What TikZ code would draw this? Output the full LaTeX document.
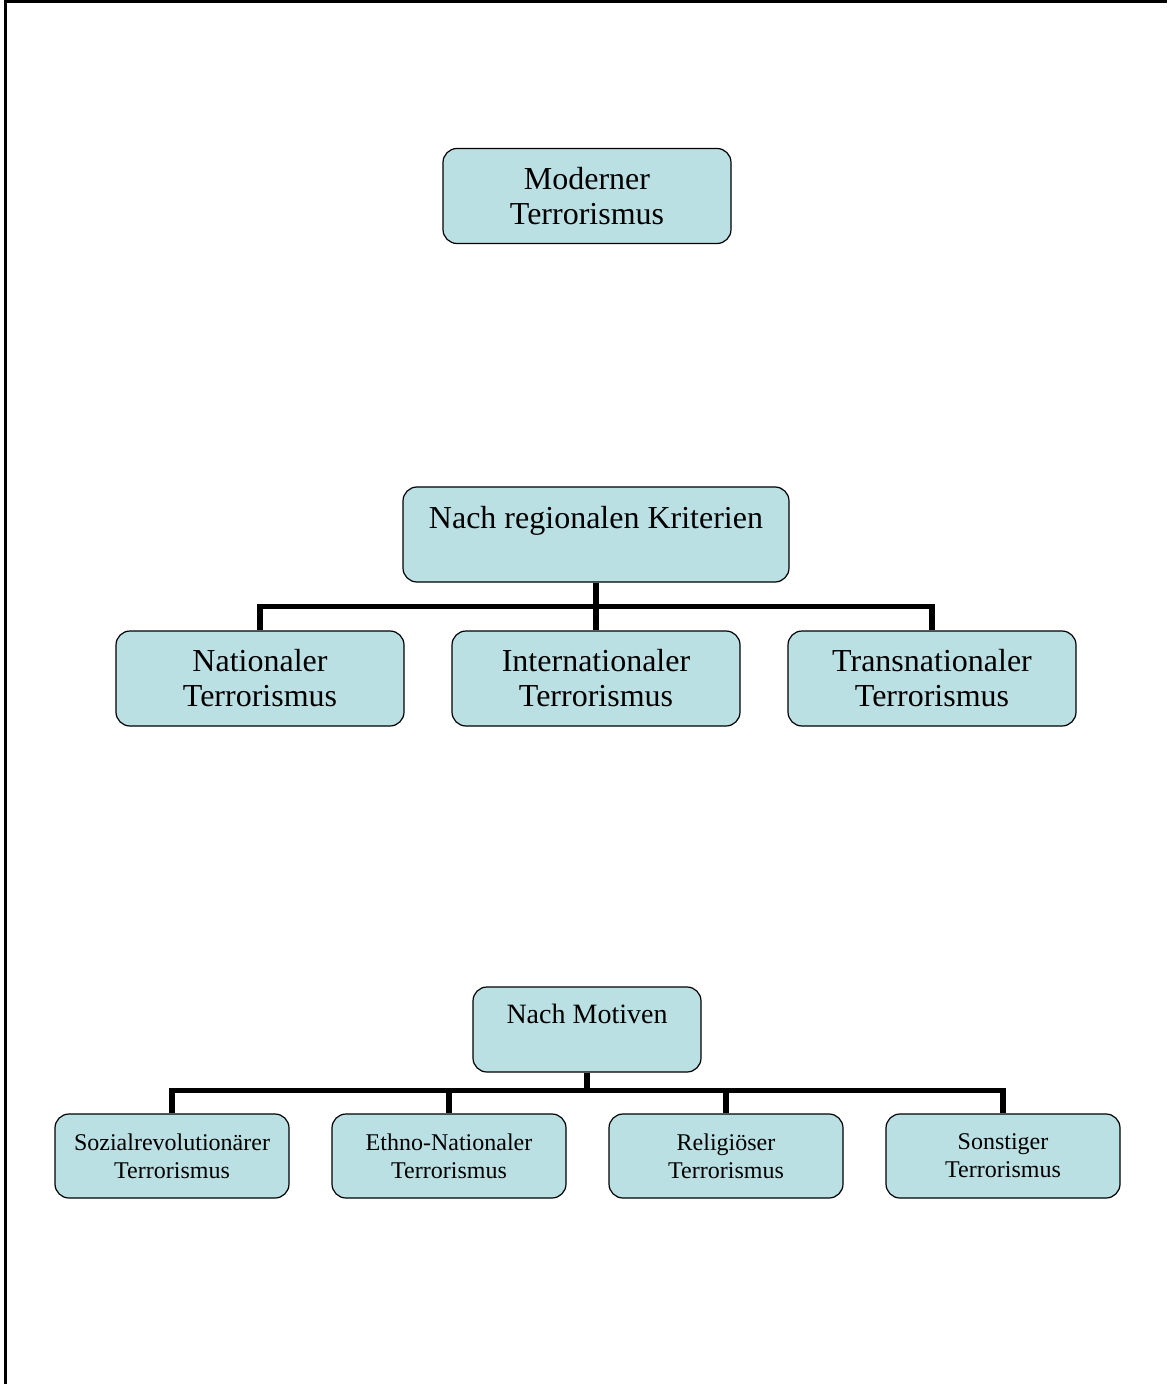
\documentclass[tikz,border=0pt]{standalone}
\usepackage{fontspec}
\setmainfont{Liberation Serif}
\definecolor{boxfill}{RGB}{187,224,227}
\begin{document}
\begin{tikzpicture}[x=0.5pt, y=-0.5pt,
          box/.style = {draw, fill=boxfill, rounded corners=7pt, align=center, line width=0.6pt, inner sep=0pt},
          bigbox/.style = {box, minimum width=144pt, minimum height=47.5pt, font=\fontsize{16}{17.5}\selectfont},
          smallbox/.style = {box, minimum width=117pt, minimum height=42pt, font=\fontsize{12}{14}\selectfont},
          conn/.style = {line width=2.8pt}]
          \useasboundingbox (0,0) rectangle (1167,1384);
          % Rahmen: nur oben und links
          \draw[line width=1.5pt] (5,1384) -- (5,2) -- (1167,2);
          % Wurzel
          \node[bigbox] (mod) at (587,196) {Moderner\\Terrorismus};
          % Nach regionalen Kriterien
          \node[bigbox, minimum width=193pt] (reg) at (596,534.5) {Nach regionalen Kriterien\\\phantom{T}};
          \node[bigbox] (nat) at (260,678.5) {Nationaler\\Terrorismus};
          \node[bigbox] (int) at (596,678.5) {Internationaler\\Terrorismus};
          \node[bigbox] (trans) at (932,678.5) {Transnationaler\\Terrorismus};
          \foreach \c in {nat,int,trans}
            \draw[conn] (reg.south) -- ++(0,24) -| (\c.north);
          % Nach Motiven
          \node[box, minimum width=114pt, minimum height=42.5pt, font=\fontsize{14}{16}\selectfont] (mot) at (587,1029.5) {Nach Motiven\\\phantom{T}};
          \node[smallbox] (sozial) at (172,1156) {Sozialrevolutionärer\\Terrorismus};
          \node[smallbox] (ethno) at (449,1156) {Ethno-Nationaler\\Terrorismus};
          \node[smallbox] (relig) at (726,1156) {Religiöser\\Terrorismus};
          \node[smallbox] (sonst) at (1003,1156) {Sonstiger\\Terrorismus};
          \foreach \c in {sozial,ethno,relig,sonst}
            \draw[conn] (mot.south) -- ++(0,18) -| (\c.north);
        \end{tikzpicture}
\end{document}
